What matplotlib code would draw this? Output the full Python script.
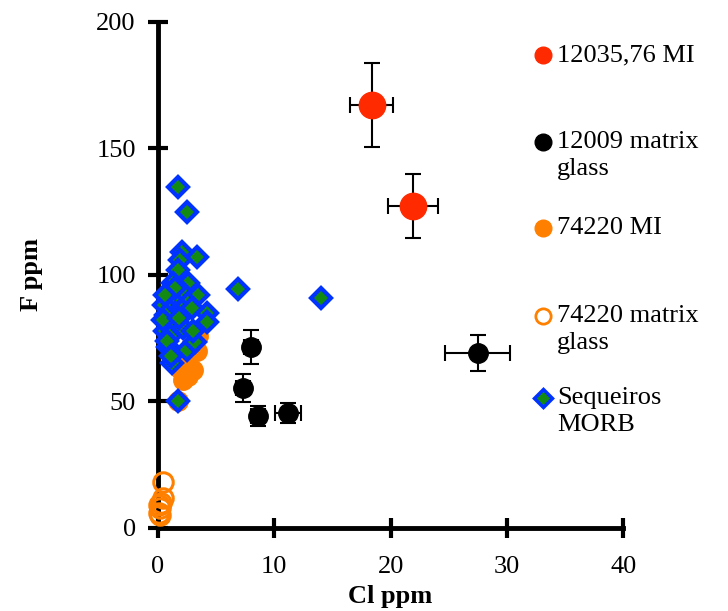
import numpy as np
import matplotlib.pyplot as plt
from matplotlib.lines import Line2D

plt.rcParams['font.family'] = ['Liberation Serif', 'DejaVu Serif']

# 12035,76 MI (red, with error bars)
red_cl = [18.4, 21.9]
red_f = [167.2, 127.3]
red_xerr = [1.85, 2.15]
red_yerr = [16.6, 12.6]

# 12009 matrix glass (black, with error bars)
blk_cl = [8.0, 7.3, 8.6, 11.2, 27.5]
blk_f = [71.5, 55.3, 44.3, 45.5, 69.2]
blk_xerr = [0.6, 0.6, 0.6, 1.1, 2.8]
blk_yerr = [6.7, 5.5, 4.0, 4.0, 7.0]

# 74220 MI (filled orange)
omi_cl = [1.7, 2.15, 2.6, 3.0, 3.35, 3.45, 2.4, 2.8, 1.9, 3.2]
omi_f = [50.0, 58.5, 60.0, 62.5, 70.0, 76.0, 66.0, 72.0, 63.0, 78.0]

# 74220 matrix glass (open orange)
omg_cl = [0.45, 0.15, 0.3, 0.1, 0.4, 0.2, 0.05]
omg_f = [18.2, 8.0, 10.0, 6.0, 12.0, 5.0, 9.0]

# Sequeiros MORB (diamonds)
mor_cl = [1.7, 2.5, 3.35, 2.1, 1.9, 1.7, 1.3, 2.6, 2.15, 3.4, 1.2, 2.6, 6.9,
          1.45, 2.1, 4.2, 4.2, 1.2, 2.15, 0.85, 2.5, 3.2, 1.2, 1.7, 14.0,
          0.5, 0.7, 0.6, 0.9, 1.0, 0.4, 0.8, 1.5, 1.8, 2.9, 3.0, 0.6, 1.1]
mor_f = [134.8, 125.0, 107.0, 109.0, 106.0, 102.0, 97.0, 97.0, 93.0, 92.0,
         90.0, 89.0, 94.5, 85.0, 86.0, 85.0, 81.4, 80.6, 79.0, 71.5, 70.4,
         73.5, 65.0, 50.0, 91.0, 88.0, 84.0, 78.0, 93.0, 76.0, 82.0, 74.0,
         95.0, 83.0, 87.0, 78.0, 92.0, 68.0]

red = '#ff2a00'
orange = '#ff8000'
blue = '#0033ff'
green = '#138a13'

fig = plt.figure(figsize=(7.28, 6.11), dpi=100)
ax = fig.add_axes([0.217, 0.136, 0.639, 0.828])

ax.plot(omg_cl, omg_f, 'o', ms=14, mfc='none', mec=orange, mew=2.2, zorder=3,
        clip_on=False)
ax.plot(omi_cl, omi_f, 'o', ms=14, mfc=orange, mec=orange, zorder=3)
ax.plot(mor_cl, mor_f, 'D', ms=10, mfc=green, mec=blue, mew=3, zorder=4,
        clip_on=False)
ax.errorbar(blk_cl, blk_f, xerr=blk_xerr, yerr=blk_yerr, fmt='o', ms=14,
            color='black', ecolor='black', elinewidth=1.5, capsize=6,
            capthick=1.5, zorder=5)
ax.errorbar(red_cl, red_f, xerr=red_xerr, yerr=red_yerr, fmt='o', ms=19,
            color=red, mec=red, ecolor='black', elinewidth=1.5, capsize=6,
            capthick=1.5, zorder=5)

ax.set_xlim(0, 40)
ax.set_ylim(0, 200)
ax.set_xticks([0, 10, 20, 30, 40])
ax.set_yticks([0, 50, 100, 150, 200])
for s in ['top', 'right']:
    ax.spines[s].set_visible(False)
for s in ['left', 'bottom']:
    ax.spines[s].set_linewidth(3.5)
ax.tick_params(direction='inout', length=14, width=3, labelsize=19)
ax.tick_params(axis='y', pad=9)
ax.tick_params(axis='x', pad=13)
ax.set_xlabel('Cl ppm', fontsize=19, fontweight='bold', labelpad=5)
ax.set_ylabel('F ppm', fontsize=19, fontweight='bold', labelpad=38)

# legend drawn by hand in figure pixels
W, H = 728, 611
def leg(y, label, **kw):
    fig.add_artist(Line2D([543 / W], [1 - y / H], transform=fig.transFigure,
                          linestyle='none', **kw))
    fig.text(557 / W, 1 - (y - 11) / H, label, fontsize=19, va='top',
             linespacing=1.3)

leg(55, '12035,76 MI', marker='o', ms=12, mfc=red, mec=red)
leg(142, '12009 matrix\nglass', marker='o', ms=12, mfc='black', mec='black')
leg(228, '74220 MI', marker='o', ms=12, mfc=orange, mec=orange)
leg(316, '74220 matrix\nglass', marker='o', ms=11, mfc='none', mec=orange,
    mew=2)
leg(398, 'Sequeiros\nMORB', marker='D', ms=9, mfc=green, mec=blue, mew=2.5)

fig.savefig('out.png', dpi=100)
